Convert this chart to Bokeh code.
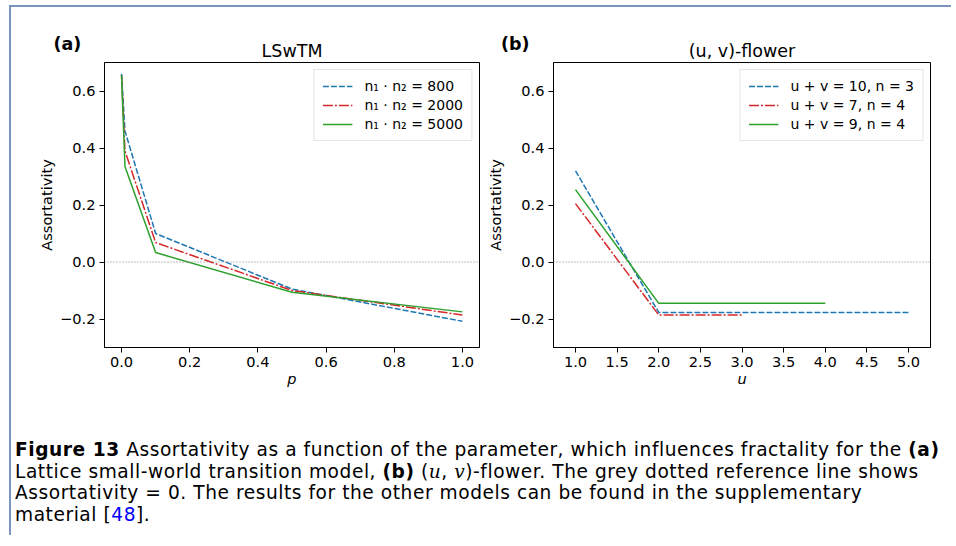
from bokeh.plotting import figure
from bokeh.models import Range1d, FixedTicker, Span, Label, Div
from bokeh.layouts import row, column
from bokeh.embed import file_html
from bokeh.resources import INLINE

# ---------------- data ----------------
p_values = [0.0, 0.01, 0.1, 0.5, 1.0]
lsw_800 = [0.660, 0.460, 0.100, -0.095, -0.208]
lsw_2000 = [0.655, 0.390, 0.068, -0.100, -0.186]
lsw_5000 = [0.655, 0.335, 0.033, -0.106, -0.175]

u_10_3 = [1.0, 2.0, 3.0, 4.0, 5.0]
flower_10_3 = [0.320, -0.177, -0.177, -0.177, -0.177]
u_7_4 = [1.0, 2.0, 3.0]
flower_7_4 = [0.205, -0.186, -0.186]
u_9_4 = [1.0, 2.0, 3.0, 4.0]
flower_9_4 = [0.254, -0.145, -0.145, -0.145]

y_ticks = [-0.2, 0.0, 0.2, 0.4, 0.6]
y_tick_labels = ["\u22120.2", "0.0", "0.2", "0.4", "0.6"]
p_ticks = [0.0, 0.2, 0.4, 0.6, 0.8, 1.0]
p_tick_labels = ["0.0", "0.2", "0.4", "0.6", "0.8", "1.0"]
u_ticks = [1.0, 1.5, 2.0, 2.5, 3.0, 3.5, 4.0, 4.5, 5.0]
u_tick_labels = ["1.0", "1.5", "2.0", "2.5", "3.0", "3.5", "4.0", "4.5", "5.0"]

lsw_legend = ["n\u2081 \u00b7 n\u2082 = 800", "n\u2081 \u00b7 n\u2082 = 2000", "n\u2081 \u00b7 n\u2082 = 5000"]
flower_legend = ["u + v = 10, n = 3", "u + v = 7, n = 4", "u + v = 9, n = 4"]
panel_titles = ["LSwTM", "(u, v)-flower"]
panel_tags = ["(a)", "(b)"]

BLUE, RED, GREEN = "#1f77b4", "#d62728", "#2ca02c"
FONT = "DejaVu Sans"
TICK = "14.6px"

# page layout (page pixel coords); body margin is 0 in Bokeh's template
X0, Y0 = 11, 7
FT, FH = 62, 285
TOP_B = 2
STRIP_H = FT - Y0 - TOP_B


def make_panel(xr, frame_left, frame_w, start_x, right_border, xticks, xlabels, xlabel):
    left_b = frame_left - start_x
    bottom_b = 48
    p = figure(width=left_b + frame_w + right_border, height=TOP_B + FH + bottom_b,
               x_range=Range1d(*xr), y_range=Range1d(-0.3, 0.7),
               output_backend="svg", toolbar_location=None,
               min_border_left=left_b, min_border_right=right_border,
               min_border_top=TOP_B, min_border_bottom=bottom_b)
    p.background_fill_color = "white"
    p.border_fill_color = "white"
    p.outline_line_color = "black"
    p.outline_line_width = 1
    p.grid.visible = False
    for ax in (p.xaxis[0], p.yaxis[0]):
        ax.major_tick_in = 0
        ax.major_tick_out = 5
        ax.minor_tick_in = 0
        ax.minor_tick_out = 0
        ax.major_tick_line_color = "black"
        ax.axis_line_color = "black"
        ax.major_label_text_font = FONT
        ax.major_label_text_font_size = TICK
        ax.major_label_text_color = "black"
        ax.axis_label_text_font = FONT
        ax.axis_label_text_font_size = TICK
        ax.axis_label_text_color = "black"
        ax.major_label_standoff = 4
    p.xaxis.ticker = FixedTicker(ticks=xticks)
    p.xaxis.major_label_overrides = {t: l for t, l in zip(xticks, xlabels)}
    p.yaxis.ticker = FixedTicker(ticks=y_ticks)
    p.yaxis.major_label_overrides = {t: l for t, l in zip(y_ticks, y_tick_labels)}
    p.xaxis.axis_label = xlabel
    p.xaxis.axis_label_text_font_style = "italic"
    p.xaxis.axis_label_standoff = 0
    p.yaxis.axis_label = "Assortativity"
    p.yaxis.axis_label_text_font_style = "normal"
    p.yaxis.axis_label_standoff = 2
    p.add_layout(Span(location=0.0, dimension="width", line_color="#808080",
                      line_dash="1 2", line_width=1))
    return p


p1 = make_panel((-0.05, 1.05), 104, 375, X0, 2, p_ticks, p_tick_labels, "p")
p1.line(p_values, lsw_800, line_color=BLUE, line_width=1.5, line_dash="6 2",
        legend_label=lsw_legend[0])
p1.line(p_values, lsw_2000, line_color=RED, line_width=1.5, line_dash="10 2 2 2",
        legend_label=lsw_legend[1])
p1.line(p_values, lsw_5000, line_color=GREEN, line_width=1.5, legend_label=lsw_legend[2])

p1_right = X0 + p1.width
p2 = make_panel((0.736, 5.264), 553, 377, p1_right, 10, u_ticks, u_tick_labels, "u")
p2.line(u_10_3, flower_10_3, line_color=BLUE, line_width=1.5, line_dash="6 2",
        legend_label=flower_legend[0])
p2.line(u_7_4, flower_7_4, line_color=RED, line_width=1.5, line_dash="10 2 2 2",
        legend_label=flower_legend[1])
p2.line(u_9_4, flower_9_4, line_color=GREEN, line_width=1.5, legend_label=flower_legend[2])

for p in (p1, p2):
    lg = p.legend[0]
    lg.location = "top_right"
    lg.margin = 7
    lg.padding = 8
    lg.spacing = 3
    lg.glyph_width = 30
    lg.glyph_height = 16
    lg.label_height = 16
    lg.label_standoff = 12
    lg.label_text_font = FONT
    lg.label_text_font_size = "14px"
    lg.label_text_color = "black"
    lg.border_line_color = "#cccccc"
    lg.border_line_width = 1
    lg.background_fill_alpha = 0.8

# strip above the panels with titles and panel tags (page-pixel coordinates)
strip_w = p1.width + p2.width
strip = figure(width=strip_w, height=STRIP_H,
               x_range=Range1d(X0, X0 + strip_w), y_range=Range1d(Y0 + STRIP_H, Y0),
               output_backend="svg", toolbar_location=None,
               x_axis_type=None, y_axis_type=None,
               min_border_left=0, min_border_right=0, min_border_top=0, min_border_bottom=0)
strip.outline_line_color = None
strip.grid.visible = False
strip.background_fill_color = "white"
strip.border_fill_color = "white"
title_centers = [(104 + 479) / 2, (553 + 930) / 2]
tag_lefts = [53, 500.5]
for t, c, tag, tl in zip(panel_titles, title_centers, panel_tags, tag_lefts):
    strip.add_layout(Label(x=c, y=50.0, text=t, text_font=FONT, text_font_size="17.5px",
                           text_align="center", text_baseline="alphabetic",
                           text_color="black"))
    strip.add_layout(Label(x=tl, y=43.5, text=tag, text_font=FONT, text_font_size="17.5px",
                           text_font_style="bold", text_align="left",
                           text_baseline="alphabetic", text_color="black"))

serif_i = "font-family:'DejaVu Serif',serif;font-style:italic;"
caption_html = (
    '<div style="font-family:\'DejaVu Sans\',sans-serif;font-size:18.6px;line-height:21.5px;'
    'letter-spacing:0.55px;color:#000;white-space:nowrap;padding-top:44px;padding-left:4px;">'
    '<b>Figure 13</b> Assortativity as a function of the parameter, which influences '
    'fractality for the <b>(a)</b><br>'
    'Lattice small-world transition model, <b>(b)</b> '
    f'(<span style="{serif_i}">u</span>, <span style="{serif_i}">v</span>)-flower. '
    'The grey dotted reference line shows<br>'
    'Assortativity = 0. The results for the other models can be found in the supplementary<br>'
    'material [<span style="color:#0000ff">48</span>].</div>'
)
caption = Div(text=caption_html, width=940, height=140, margin=(0, 0, 0, 0))

layout = column(strip, row(p1, p2), caption,
                styles={"border-top": "2px solid #7b96bd", "border-left": "2px solid #7b96bd",
                        "margin-top": "5px", "margin-left": "9px"})

open("out.html", "w").write(file_html(layout, INLINE))
